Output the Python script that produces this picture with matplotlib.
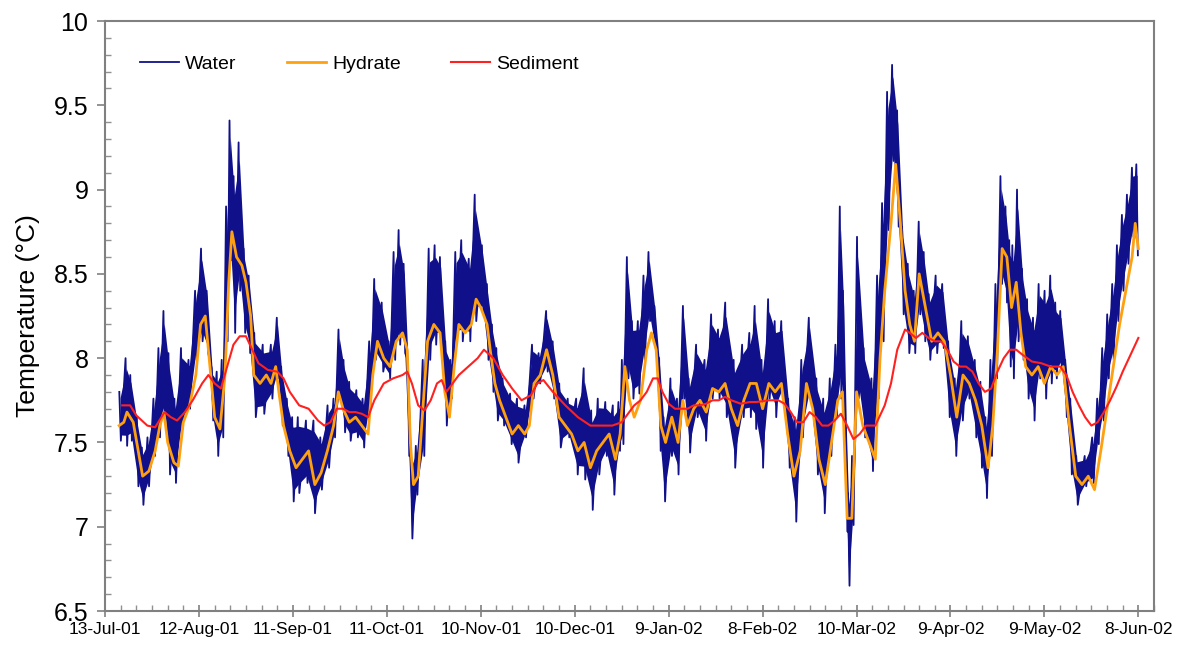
import numpy as np
import matplotlib
matplotlib.use('Agg')
import matplotlib.pyplot as plt
import matplotlib.dates as mdates
from datetime import datetime, timedelta

start = datetime(2001, 7, 13)

# water logger: upper and lower edge of the noisy trace (days after 13-Jul-01)
water_day = [4.8, 6.8, 8.3, 10.4, 12.0, 13.8, 15.7, 17.3, 18.9, 20.5, 22.4, 24.5, 26.9, 29.0, 30.9, 32.7, 34.3, 35.9, 37.5, 38.9, 40.0,
             41.3, 42.9, 44.5, 46.1, 47.9, 50.6, 53.2, 55.1, 56.5, 58.3, 60.0, 61.8, 64.4, 66.8, 69.0, 71.3, 73.2, 74.8, 76.4, 78.2, 80.5, 82.5,
             84.6, 86.2, 88.6, 90.8, 92.4, 94.0, 95.6, 96.9, 97.9, 99.5, 101.7, 103.6, 105.5, 107.2, 108.9, 110.5, 112.1, 114.0, 116.4, 118.3, 120.6,
             122.2, 123.8, 125.2, 127.2, 129.6, 131.8, 134.2, 136.6, 138.7, 141.1, 143.2, 145.3, 148.0, 150.7, 153.1, 155.5, 157.6, 160.0, 162.4, 164.2,
             165.3, 166.9, 168.5, 170.4, 172.2, 173.8, 175.7, 177.2, 178.6, 180.8, 182.9, 184.8, 186.6, 189.0, 191.7, 193.8, 196.0, 198.3, 201.0, 203.7, 206.0,
             207.7, 209.9, 212.0, 214.1, 216.2, 218.4, 220.5, 222.6, 225.0, 227.4, 229.6, 231.7, 233.5, 234.9, 235.9, 236.9, 237.5, 238.8, 240.4, 242.5, 245.0, 246.8, 248.4,
             250.0, 251.6, 253.2, 254.8, 256.6, 258.5, 260.1, 261.7, 263.3, 265.5, 267.6, 269.5, 271.6, 273.7, 275.8, 278.0, 279.8, 281.4, 283.0, 284.6, 286.2, 287.8,
             289.0, 290.0, 291.5, 293.1, 294.7, 296.6, 298.4, 300.3, 302.1, 303.7, 305.3, 306.9, 308.5, 310.4, 313.1, 315.5, 317.1, 318.7, 320.3, 321.9, 323.4, 325.0, 326.6, 328.2, 329.6]
water_hi = [7.80, 8.00, 7.90, 7.65, 7.47, 7.53, 7.76, 8.06, 8.28, 8.03, 7.76, 8.06, 7.99, 8.40, 8.65, 8.40, 7.94, 7.92, 7.99, 8.90, 9.41,
            9.08, 9.28, 8.65, 8.49, 8.15, 8.08, 8.08, 8.24, 7.95, 7.76, 7.65, 7.65, 7.63, 7.63, 7.53, 7.72, 7.76, 8.17, 7.99, 7.86, 7.81, 7.76,
            8.10, 8.47, 8.33, 8.10, 8.63, 8.76, 8.56, 7.99, 7.42, 7.48, 7.99, 8.65, 8.67, 8.60, 8.10, 7.99, 8.63, 8.70, 8.59, 8.97, 8.67,
            8.44, 8.20, 8.06, 7.88, 7.79, 7.76, 7.72, 8.08, 8.03, 8.28, 8.10, 7.85, 7.76, 7.76, 7.94, 7.69, 7.76, 7.74, 7.72, 7.74,
            7.99, 8.60, 8.22, 8.22, 8.49, 8.63, 8.31, 8.00, 7.65, 7.88, 7.76, 8.31, 7.88, 8.08, 7.99, 8.26, 8.17, 8.33, 7.99, 8.08, 8.15,
            8.31, 7.99, 8.35, 8.22, 8.22, 7.76, 7.65, 7.99, 8.24, 7.88, 7.76, 7.88, 8.08, 8.90, 8.40, 7.53, 7.20, 7.42, 8.72, 8.06, 7.88, 8.49, 8.92,
            9.58, 9.74, 9.47, 8.78, 8.56, 8.40, 8.81, 8.63, 8.38, 8.49, 8.44, 8.10, 7.88, 8.22, 8.13, 7.99, 7.86, 7.65, 7.99, 8.44, 9.08, 8.90,
            8.70, 8.67, 9.00, 8.53, 8.35, 8.24, 8.44, 8.40, 8.49, 8.33, 8.28, 7.99, 7.76, 7.42, 7.42, 7.53, 7.76, 8.06, 8.26, 8.44, 8.67, 8.85, 8.97, 9.13, 9.15]
water_lo = [7.51, 7.48, 7.51, 7.24, 7.13, 7.24, 7.42, 7.53, 7.65, 7.31, 7.26, 7.58, 7.70, 7.99, 8.10, 8.03, 7.63, 7.42, 7.53, 8.10, 8.58,
            8.15, 8.40, 8.15, 8.03, 7.65, 7.67, 7.76, 7.88, 7.60, 7.42, 7.15, 7.20, 7.26, 7.08, 7.22, 7.35, 7.53, 7.76, 7.56, 7.51, 7.53, 7.47,
            7.70, 7.99, 7.92, 7.88, 7.99, 8.08, 8.03, 7.42, 6.93, 7.19, 7.42, 7.99, 8.08, 8.10, 7.60, 7.76, 8.10, 8.10, 8.10, 8.22, 8.26,
            7.99, 7.80, 7.63, 7.60, 7.49, 7.38, 7.53, 7.76, 7.85, 7.92, 7.76, 7.47, 7.53, 7.31, 7.28, 7.10, 7.31, 7.42, 7.19, 7.45,
            7.49, 7.88, 7.76, 7.79, 7.99, 8.22, 8.03, 7.45, 7.15, 7.42, 7.31, 7.76, 7.44, 7.65, 7.51, 7.76, 7.76, 7.65, 7.35, 7.65, 7.65,
            7.58, 7.35, 7.76, 7.65, 7.76, 7.35, 7.03, 7.53, 7.76, 7.31, 7.08, 7.42, 7.65, 7.76, 7.65, 6.97, 6.65, 7.01, 7.76, 7.53, 7.33, 7.76, 8.10,
            8.76, 9.17, 8.78, 8.26, 8.03, 8.03, 8.26, 8.10, 7.99, 8.03, 8.06, 7.65, 7.42, 7.63, 7.76, 7.53, 7.35, 7.17, 7.42, 7.88, 8.44, 8.33,
            7.95, 7.88, 8.10, 7.99, 7.76, 7.63, 7.88, 7.76, 7.85, 7.88, 7.94, 7.65, 7.31, 7.13, 7.24, 7.26, 7.49, 7.63, 7.88, 7.99, 8.22, 8.40, 8.56, 8.72, 8.61]

hydrate_day = [4.5, 6, 7, 9, 10.6, 12, 14, 16, 17.5, 18.8, 20, 22, 23.4, 25, 27, 29, 30.5, 32, 33.5, 35, 36.7, 38.3, 39.5,
               40.5, 42, 43.7, 45, 46.5, 47.5, 49.5, 51.5, 53, 54.5, 55.5, 57, 59, 61, 63, 65, 67, 69, 71, 73, 74.5, 76, 78, 80, 82,
               84, 85.5, 87, 89, 91, 93, 95, 96.5, 97.5, 98.5, 100, 101.5, 103, 105, 107, 108.5, 110, 111.5, 113, 115, 117, 118.5, 120, 122,
               123, 124.5, 126, 128, 130, 132, 134, 135.5, 137, 139, 141, 143, 145, 147, 149, 151, 153, 155, 157, 159, 161, 163, 164.5,
               166, 167.5, 169, 171, 173, 174.5, 176, 177.5, 179, 181, 183, 184.5, 186, 188, 190, 192, 194, 196, 198, 200, 202, 204, 206,
               208, 210, 212, 214, 216, 218, 220, 222, 224, 226, 228, 230, 232, 234, 235.5, 237, 238.5, 240, 242, 244, 246, 247.5,
               249, 251, 252.5, 254, 255.5, 257, 258.5, 260, 262, 264, 266, 268, 270, 272, 274, 276, 278, 280, 282, 283.5, 285, 286.5, 288,
               289.5, 291, 292.5, 294, 296, 298, 300, 302, 304, 306, 308, 310, 312, 314, 316, 318, 320, 322, 324, 326, 328, 329, 330]
hydrate = [7.60, 7.62, 7.68, 7.62, 7.45, 7.30, 7.33, 7.45, 7.60, 7.68, 7.50, 7.38, 7.36, 7.62, 7.72, 7.90, 8.20, 8.25, 7.95, 7.65, 7.58, 7.90, 8.45,
           8.75, 8.60, 8.55, 8.45, 8.25, 7.90, 7.85, 7.90, 7.85, 7.95, 7.80, 7.60, 7.45, 7.35, 7.40, 7.45, 7.25, 7.32, 7.45, 7.60, 7.80, 7.70, 7.62, 7.65, 7.60,
           7.55, 7.90, 8.10, 8.00, 7.95, 8.10, 8.15, 8.05, 7.50, 7.25, 7.30, 7.70, 8.10, 8.20, 8.15, 7.80, 7.65, 7.95, 8.20, 8.15, 8.20, 8.35, 8.30, 8.20,
           8.05, 7.85, 7.75, 7.65, 7.55, 7.60, 7.55, 7.60, 7.85, 7.90, 8.05, 7.90, 7.65, 7.60, 7.55, 7.45, 7.50, 7.35, 7.45, 7.50, 7.55, 7.40, 7.55,
           7.95, 7.75, 7.65, 7.75, 8.05, 8.15, 8.05, 7.60, 7.50, 7.65, 7.50, 7.75, 7.60, 7.70, 7.75, 7.68, 7.82, 7.80, 7.85, 7.70, 7.60, 7.75, 7.85,
           7.85, 7.70, 7.85, 7.80, 7.85, 7.55, 7.30, 7.45, 7.85, 7.70, 7.40, 7.25, 7.50, 7.75, 7.80, 7.05, 7.05, 7.80, 7.60, 7.50, 7.40, 8.00,
           8.40, 8.80, 9.15, 8.80, 8.40, 8.20, 8.10, 8.50, 8.30, 8.10, 8.15, 8.10, 7.90, 7.65, 7.90, 7.85, 7.75, 7.60, 7.35, 7.60, 8.05, 8.65, 8.60,
           8.30, 8.45, 8.15, 7.95, 7.90, 7.95, 7.85, 7.95, 7.90, 7.95, 7.60, 7.30, 7.25, 7.30, 7.22, 7.45, 7.70, 7.95, 8.20, 8.40, 8.60, 8.80, 8.65]

sediment_day = [5.5, 8, 10, 13.5, 16, 19, 21, 23, 25.5, 28, 31, 33, 35, 37, 39, 41, 43, 45, 47, 49, 52, 55, 57, 59, 62, 65, 68, 70,
                72, 74, 76, 78, 80, 82, 84, 86, 89, 92, 95, 96.5, 98, 100, 102, 104, 106, 107.5, 109, 111, 113, 116, 119, 121, 124, 127,
                130, 133, 136, 138, 140, 143, 147, 151, 155, 159, 162, 165, 167, 169, 171, 173, 175, 176.5, 178, 180, 182, 184, 186, 188,
                190, 192, 194, 196, 198, 200, 203, 206, 208, 212, 215, 217, 219, 221, 223, 225, 227, 229, 231, 233, 235, 237, 239, 241,
                243, 246, 249, 251, 253, 255.5, 257, 259, 261, 263, 265, 267, 269, 271, 273, 275, 277, 279, 281, 283, 285, 287, 289, 291,
                293, 296, 299, 302, 305, 307, 309, 311, 313, 315, 317, 319, 321, 323, 325, 327, 329, 330]
sediment = [7.72, 7.72, 7.66, 7.60, 7.59, 7.68, 7.65, 7.63, 7.68, 7.75, 7.85, 7.90, 7.85, 7.82, 7.95, 8.08, 8.13, 8.13, 8.05, 7.97, 7.93, 7.92, 7.88, 7.80, 7.72, 7.70, 7.63, 7.60,
            7.62, 7.70, 7.70, 7.68, 7.68, 7.67, 7.65, 7.75, 7.85, 7.88, 7.90, 7.92, 7.85, 7.72, 7.69, 7.75, 7.85, 7.87, 7.80, 7.85, 7.90, 7.95, 8.00, 8.05, 8.00, 7.90,
            7.82, 7.75, 7.78, 7.85, 7.87, 7.80, 7.72, 7.65, 7.60, 7.60, 7.60, 7.62, 7.67, 7.72, 7.75, 7.80, 7.88, 7.88, 7.80, 7.73, 7.70, 7.70, 7.70, 7.72,
            7.72, 7.73, 7.75, 7.75, 7.77, 7.75, 7.73, 7.74, 7.74, 7.75, 7.75, 7.73, 7.68, 7.62, 7.62, 7.68, 7.65, 7.60, 7.60, 7.63, 7.67, 7.60, 7.52, 7.55,
            7.60, 7.60, 7.72, 7.85, 8.05, 8.17, 8.15, 8.12, 8.15, 8.12, 8.10, 8.10, 8.05, 7.98, 7.95, 7.95, 7.92, 7.85, 7.80, 7.82, 7.92, 8.00, 8.05, 8.05,
            8.02, 7.98, 7.97, 7.95, 7.95, 7.90, 7.80, 7.72, 7.65, 7.60, 7.62, 7.68, 7.75, 7.83, 7.92, 8.00, 8.08, 8.12]

tick_days = list(range(0, 331, 30))


def to_dates(days):
    return [start + timedelta(days=float(d)) for d in days]


plt.rcParams['font.family'] = ['Liberation Sans', 'DejaVu Sans']

fig = plt.figure(figsize=(11.83, 6.53), dpi=100)
ax = fig.add_axes([0.0888, 0.0643, 0.8867, 0.9035])

navy = '#10108a'

# zigzag between the upper and lower edges so the trace reads like raw logger data
zz_day = []
zz_val = []
for d, hi, lo in zip(water_day, water_hi, water_lo):
    zz_day += [d - 0.25, d + 0.25]
    zz_val += [hi, lo]

wd = to_dates(water_day)
hi = np.array(water_hi)
lo = np.array(water_lo)
ax.fill_between(wd, lo + 0.12 * (hi - lo), hi - 0.12 * (hi - lo), color=navy, lw=0)
ax.plot(to_dates(zz_day), zz_val, color=navy, lw=1.3, label='Water')
ax.plot(to_dates(hydrate_day), hydrate, color='#ffa010', lw=2.0, label='Hydrate')
ax.plot(to_dates(sediment_day), sediment, color='#ff2020', lw=1.5, label='Sediment')

ax.set_ylim(6.5, 10)
ax.set_xlim(start, start + timedelta(days=335))
ax.set_yticks(np.arange(6.5, 10.01, 0.5))
ax.set_yticklabels(['6.5', '7', '7.5', '8', '8.5', '9', '9.5', '10'])
ax.yaxis.set_minor_locator(matplotlib.ticker.MultipleLocator(0.1))

ax.set_xticks(to_dates(tick_days))
ax.xaxis.set_major_formatter(mdates.DateFormatter('%-d-%b-%y'))
ax.set_xticks(to_dates(range(0, 336, 5)), minor=True)

for s in ax.spines.values():
    s.set_color('#808080')
    s.set_linewidth(1.5)

ax.tick_params(axis='y', which='major', direction='out', length=6, width=1.2, color='#808080', labelsize=18, pad=6)
ax.tick_params(axis='y', which='minor', direction='in', length=4, width=1, color='#909090')
ax.tick_params(axis='x', which='major', direction='inout', length=8, width=1.2, color='#808080', labelsize=12.5, pad=4)
ax.tick_params(axis='x', which='minor', direction='in', length=4, width=1, color='#909090')

ax.set_ylabel('Temperature (°C)', fontsize=19)
ax.yaxis.set_label_coords(-0.062, 0.5)

ax.legend(loc='upper left', bbox_to_anchor=(0.017, 0.972), ncol=3, frameon=False,
          fontsize=14, handlelength=2.0, handletextpad=0.3, columnspacing=2.6)

fig.savefig('out.png', dpi=100)
